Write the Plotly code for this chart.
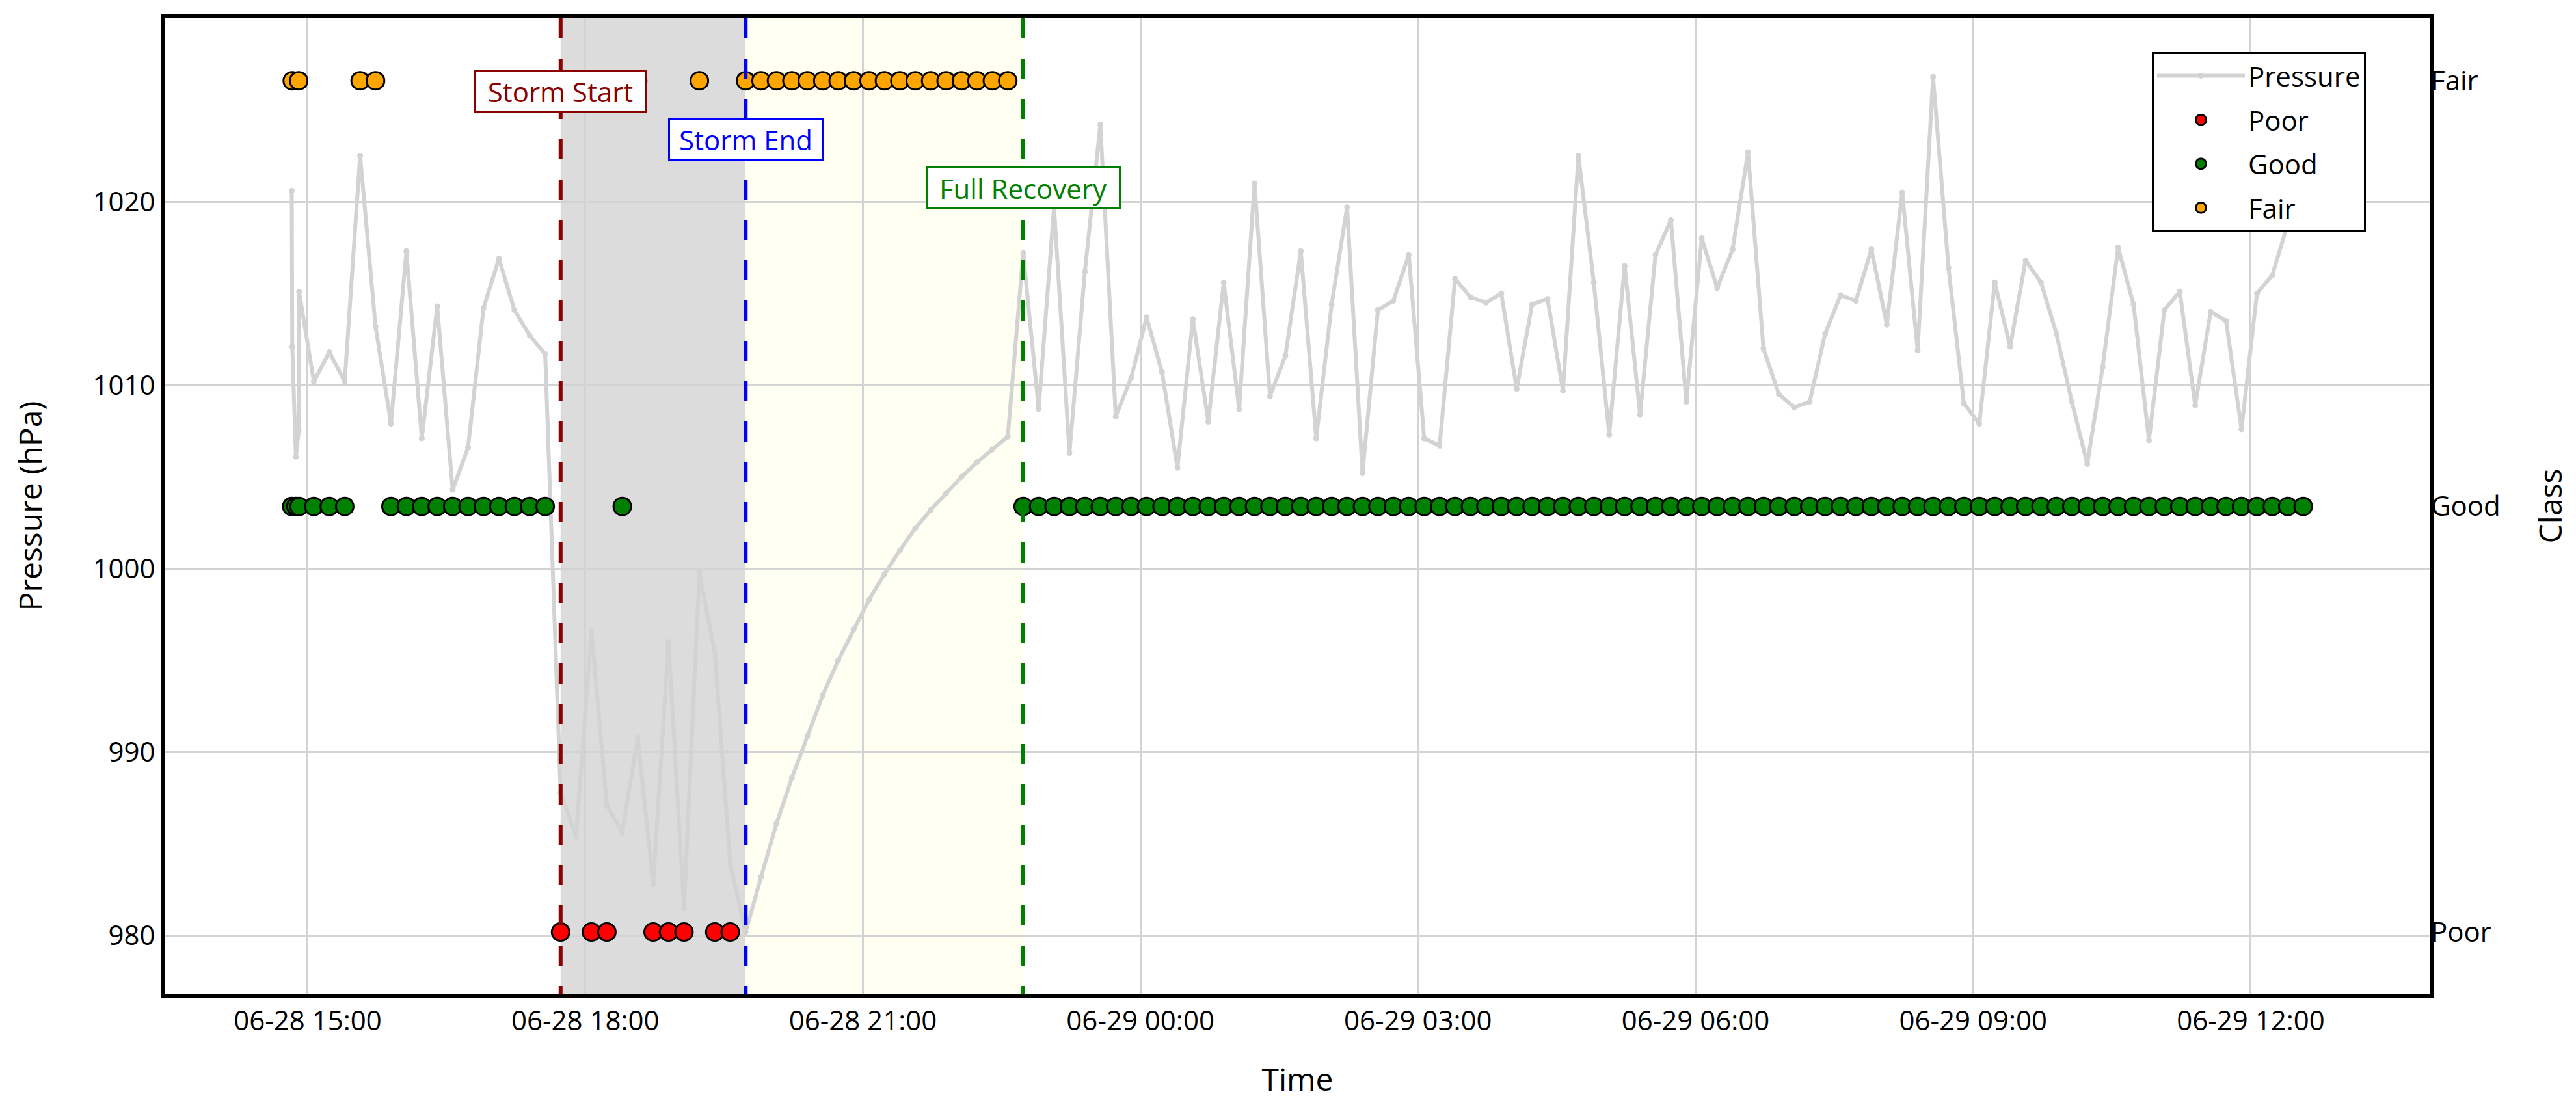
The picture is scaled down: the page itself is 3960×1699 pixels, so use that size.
import pandas as pd
import plotly.graph_objects as go

# ---------------- data ----------------
# irregular readings at the very start of the record
cluster_times = ["2024-06-28 14:49:40", "2024-06-28 14:50:00", "2024-06-28 14:52:20",
                 "2024-06-28 14:54:10", "2024-06-28 14:54:25"]
cluster_pressure = [1020.6, 1012.1, 1006.1, 1007.5, 1015.1]
cluster_class = "GFGFG"

# regular 10-minute readings 06-28 15:04 .. 06-29 12:34
regular_start = "2024-06-28 15:04"
regular_end = "2024-06-29 12:34"
pressure = [
    1010.2, 1011.8, 1010.2, 1022.5, 1013.2, 1007.9,   # 15h
    1017.3, 1007.1, 1014.3, 1004.3, 1006.6, 1014.2,   # 16h
    1016.9, 1014.1, 1012.7, 1011.7, 987.8, 985.4,     # 17h
    996.6, 987.1, 985.6, 990.8, 982.8, 996.0,         # 18h
    981.5, 999.8, 995.4, 983.9, 980.2, 983.2,         # 19h
    986.1, 988.6, 990.9, 993.1, 995.0, 996.7,         # 20h
    998.3, 999.7, 1001.0, 1002.2, 1003.2, 1004.1,     # 21h
    1005.0, 1005.8, 1006.5, 1007.2, 1017.2, 1008.7,   # 22h
    1019.7, 1006.3, 1016.2, 1024.2, 1008.3, 1010.4,   # 23h
    1013.7, 1010.7, 1005.5, 1013.6, 1008.0, 1015.6,   # 00h
    1008.7, 1021.0, 1009.4, 1011.6, 1017.3, 1007.1,   # 01h
    1014.4, 1019.7, 1005.2, 1014.1, 1014.6, 1017.1,   # 02h
    1007.1, 1006.7, 1015.8, 1014.8, 1014.5, 1015.0,   # 03h
    1009.8, 1014.4, 1014.7, 1009.7, 1022.5, 1015.6,   # 04h
    1007.3, 1016.5, 1008.4, 1017.1, 1019.0, 1009.1,   # 05h
    1018.0, 1015.3, 1017.4, 1022.7, 1012.0, 1009.5,   # 06h
    1008.8, 1009.1, 1012.8, 1014.9, 1014.6, 1017.4,   # 07h
    1013.3, 1020.5, 1011.9, 1026.8, 1016.4, 1009.0,   # 08h
    1007.9, 1015.6, 1012.1, 1016.8, 1015.6, 1012.8,   # 09h
    1009.1, 1005.7, 1011.0, 1017.5, 1014.4, 1007.0,   # 10h
    1014.1, 1015.1, 1008.9, 1014.0, 1013.5, 1007.6,   # 11h
    1015.0, 1016.0, 1018.8, 1020.0,                   # 12h
]
# P = Poor, G = Good, F = Fair
class_codes = (
    "GGGFFGGGGGGGGGGG"             # 15:04 - 17:34
    "PFPPGFPPPFPP"                 # 17:44 - 19:34 (storm)
    "FFFFFFFFFFFFFFFFFF"           # 19:44 - 22:34 (recovery)
    "GGGGGGGGGGGGGGGGGGGGGGGGGGGGGGGGGGGGGGGGGG"
    "GGGGGGGGGGGGGGGGGGGGGGGGGGGGGGGGGGGGGGGGGG"  # 22:44 - 12:34
)
class_names = {"P": "Poor", "G": "Good", "F": "Fair"}
class_colors = {"Poor": "red", "Good": "green", "Fair": "orange"}
class_order = ["Poor", "Good", "Fair"]

events = {"Storm Start": "2024-06-28 17:44", "Storm End": "2024-06-28 19:44",
          "Full Recovery": "2024-06-28 22:44"}
event_colors = {"Storm Start": "darkred", "Storm End": "blue", "Full Recovery": "green"}

# ---------------- assemble ----------------
times = list(pd.to_datetime(cluster_times)) + list(pd.date_range(regular_start, regular_end, freq="10min"))
press = cluster_pressure + pressure
classes = [class_names[c] for c in cluster_class + class_codes]
df = pd.DataFrame({"time": times, "pressure": press, "cls": classes})

fig = go.Figure()
fig.add_trace(go.Scatter(
    x=df["time"], y=df["pressure"], mode="lines+markers", name="Pressure",
    line=dict(color="lightgray", width=6), marker=dict(color="lightgray", size=9),
    yaxis="y", legendgroup="Pressure"))
for cname in class_order:
    sub = df[df["cls"] == cname]
    fig.add_trace(go.Scatter(
        x=sub["time"], y=sub["cls"], mode="markers", name=cname, yaxis="y2",
        marker=dict(color=class_colors[cname], size=27, line=dict(color="black", width=3)),
        legendgroup=cname))

# shaded periods
fig.add_shape(type="rect", xref="x", yref="paper", x0=events["Storm Start"], x1=events["Storm End"],
              y0=0, y1=1, fillcolor="#dcdcdc", line=dict(width=0), layer="below")
fig.add_shape(type="rect", xref="x", yref="paper", x0=events["Storm End"], x1=events["Full Recovery"],
              y0=0, y1=1, fillcolor="#fffff2", line=dict(width=0), layer="below")

ann_y = {"Storm Start": 0.9253, "Storm End": 0.8757, "Full Recovery": 0.8257}
ann_w = {"Storm Start": 253, "Storm End": 227, "Full Recovery": 288}
for name, t in events.items():
    fig.add_shape(type="line", xref="x", yref="paper", x0=t, x1=t, y0=1, y1=0,
                  line=dict(color=event_colors[name], width=6, dash="31px,31px"), layer="above")
    fig.add_annotation(x=t, xref="x", y=ann_y[name], yref="paper", text=name, showarrow=False,
                       xanchor="center", yanchor="middle",
                       font=dict(size=42, color=event_colors[name], family="Open Sans"),
                       bgcolor="white", bordercolor=event_colors[name], borderwidth=3, borderpad=3,
                       width=ann_w[name], height=54)

axis_common = dict(showline=True, linecolor="black", linewidth=6, mirror=True, ticks="",
                   showgrid=True, gridcolor="lightgray", gridwidth=3, zeroline=False,
                   automargin=False, tickfont=dict(size=42, color="black"))

# page body has an 8px margin, so the figure is 16px smaller than the window
fig.update_layout(
    width=3944, height=1683,
    margin=dict(l=245, r=216, t=20, b=163, pad=0),
    paper_bgcolor="white", plot_bgcolor="white",
    font=dict(family="Open Sans", size=42, color="black"),
    showlegend=True,
    legend=dict(x=0.8771, y=0.9655, xanchor="left", yanchor="top", bgcolor="white",
                bordercolor="black", borderwidth=3, font=dict(size=42, color="black"),
                itemwidth=135, tracegroupgap=10, traceorder="grouped"),
    xaxis=dict(type="date", range=["2024-06-28 13:27:12", "2024-06-29 13:56:26"],
               tickformat="%m-%d %H:%M", dtick=3 * 3600 * 1000, tick0="2024-06-28 00:00",
               title=dict(text="Time", font=dict(size=48, color="black"), standoff=53), **axis_common),
    yaxis=dict(range=[976.83, 1030.0], dtick=10,
               title=dict(text="Pressure (hPa)", font=dict(size=48, color="black"), standoff=65),
               **axis_common),
    yaxis2=dict(overlaying="y", side="right", type="category", categoryorder="array",
                categoryarray=class_order, range=[-0.145, 2.147], showgrid=False, showline=False,
                zeroline=False, ticks="", automargin=False, tickfont=dict(size=42, color="black"),
                title=dict(text="Class", font=dict(size=48, color="black"), standoff=65)),
)

fig.write_html("out.html")
